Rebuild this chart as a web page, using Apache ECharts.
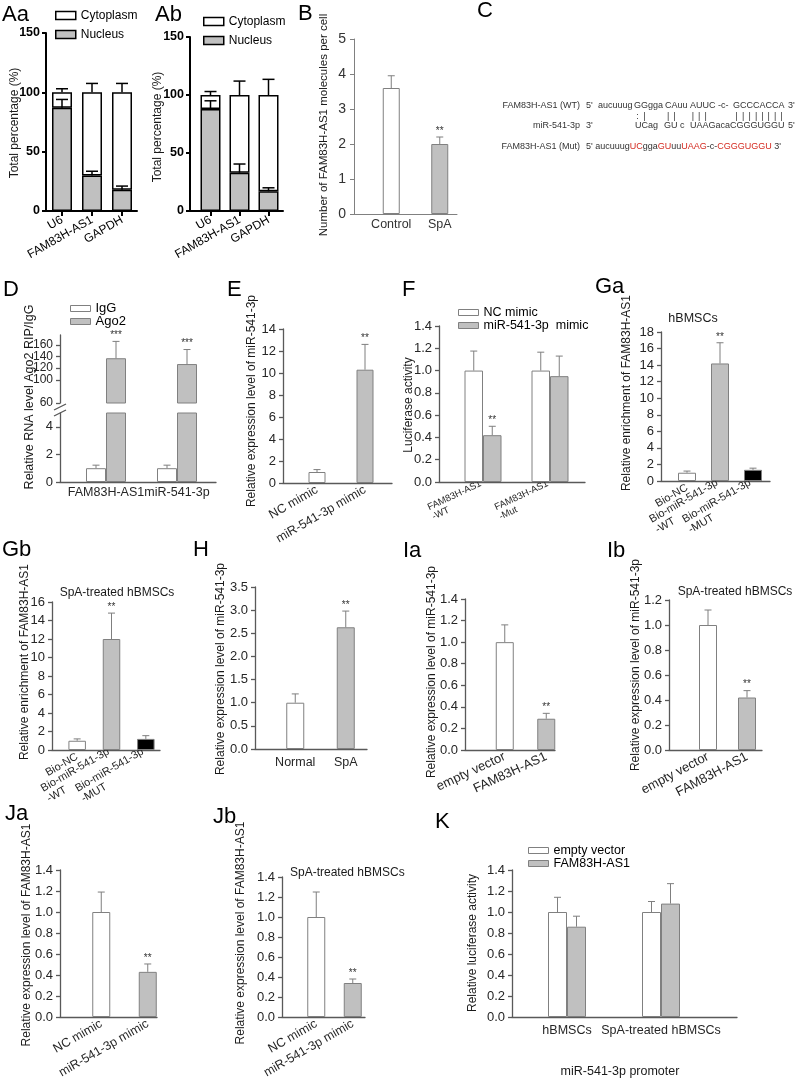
<!DOCTYPE html>
<html><head><meta charset="utf-8">
<script src="https://cdn.jsdelivr.net/npm/echarts@6/dist/echarts.min.js"></script>
<style>html,body{margin:0;padding:0;background:#fff}#c{width:800px;height:1081px}</style>
</head><body><div id="c"></div>
<script>
// ================= DATA =================
const aCategories = ['U6', 'FAM83H-AS1', 'GAPDH'];
const aTicks = [0, 50, 100, 150];
const aaNucleus = [87, 30, 18];
const aaNucleusSD = [7, 3.5, 3];
const aaCytoplasm = [13, 70, 82];
const aaTotalSD = [3, 7.5, 7.5];
const abNucleus = [88, 33, 17];
const abNucleusSD = [7, 7.5, 3];
const abCytoplasm = [12, 67, 83];
const abTotalSD = [3, 12, 13.5];

const bCategories = ['Control', 'SpA'];
const bTicks = [0, 1, 2, 3, 4, 5];
const bValues = [3.6, 2.0];
const bSD = [0.35, 0.2];
const bStars = ['', '**'];

const dCategories = ['FAM83H-AS1', 'miR-541-3p'];
const dLowTicks = [0, 2, 4];
const dLowMax = 5;
const dHighTicks = [60, 80, 100, 120, 140, 160];
const dHighMax = 177;
const dIgG = [1.0, 1.0];
const dIgGSD = [0.22, 0.22];
const dAgo2 = [137, 127];
const dAgo2SD = [29, 25];
const dStars = ['***', '***'];

const eCategories = ['NC mimic', 'miR-541-3p mimic'];
const eTicks = [0, 2, 4, 6, 8, 10, 12, 14];
const eValues = [1.0, 10.3];
const eSD = [0.22, 2.3];
const eStars = ['', '**'];

const fCategories = ['FAM83H-AS1\n-WT', 'FAM83H-AS1\n-Mut'];
const fTicks = [0, 0.2, 0.4, 0.6, 0.8, 1.0, 1.2, 1.4];
const fNC = [1.0, 1.0];
const fNCSD = [0.175, 0.165];
const fMimic = [0.42, 0.95];
const fMimicSD = [0.08, 0.18];
const fStars = ['**', ''];

const gCategories = ['Bio-NC', 'Bio-miR-541-3p\n-WT', 'Bio-miR-541-3p\n-MUT'];
const gaTicks = [0, 2, 4, 6, 8, 10, 12, 14, 16, 18];
const gaValues = [1.0, 14.2, 1.35];
const gaSD = [0.2, 2.5, 0.2];
const gbTicks = [0, 2, 4, 6, 8, 10, 12, 14, 16];
const gbValues = [1.0, 12.0, 1.2];
const gbSD = [0.2, 2.8, 0.35];
const gStars = ['', '**', ''];

const hCategories = ['Normal', 'SpA'];
const hTicks = [0, 0.5, 1.0, 1.5, 2.0, 2.5, 3.0, 3.5];
const hValues = [1.0, 2.63];
const hSD = [0.19, 0.35];

const iCategories = ['empty vector', 'FAM83H-AS1'];
const iaTicks = [0, 0.2, 0.4, 0.6, 0.8, 1.0, 1.2, 1.4];
const iaValues = [1.0, 0.29];
const iaSD = [0.16, 0.05];
const ibTicks = [0, 0.2, 0.4, 0.6, 0.8, 1.0, 1.2];
const ibValues = [1.0, 0.42];
const ibSD = [0.12, 0.055];

const jCategories = ['NC mimic', 'miR-541-3p mimic'];
const jaTicks = [0, 0.2, 0.4, 0.6, 0.8, 1.0, 1.2, 1.4];
const jaValues = [1.0, 0.43];
const jaSD = [0.19, 0.075];
const jbTicks = [0, 0.2, 0.4, 0.6, 0.8, 1.0, 1.2, 1.4];
const jbValues = [1.0, 0.34];
const jbSD = [0.25, 0.04];
const starsSecond = ['', '**'];

const kCategories = ['hBMSCs', 'SpA-treated hBMSCs'];
const kTicks = [0, 0.2, 0.4, 0.6, 0.8, 1.0, 1.2, 1.4];
const kEmpty = [1.0, 1.0];
const kEmptySD = [0.14, 0.1];
const kFAM = [0.86, 1.08];
const kFAMSD = [0.1, 0.19];

// ================= STYLE / BUILDERS =================
const FF = '"Liberation Sans", Arial, Helvetica, sans-serif';
const WHITE = '#ffffff', GRAY = '#c0c0c0', BLACK = '#000000', RED = '#d42a20';
const GP = {axis: '#000', axisW: 2, tick: 4, label: '#000', labelSize: 12.5, bold: 'bold', margin: 6};
const EX = {axis: '#595959', axisW: 1.3, tick: 4, label: '#262626', labelSize: 13, bold: 'normal', margin: 7};
const BX = {axis: '#808080', axisW: 1, tick: 4, label: '#333', labelSize: 14, bold: 'normal', margin: 8};
const GPERR = {color: '#000', lw: 1.5, cap: 12};
const EXERR = {color: '#7f7f7f', lw: 1, cap: 7};

const option = {
  animation: false, backgroundColor: '#ffffff', textStyle: {fontFamily: FF},
  grid: [], xAxis: [], yAxis: [], series: [], legend: [], graphic: {elements: []}
};
const G = option.graphic.elements;
let sid = 0;

function frame(p, st) {
  const t = p.ticks;
  const min = t[0], max = (p.max !== undefined) ? p.max : t[t.length - 1], interval = t[1] - t[0];
  const h = p.y0 - p.yTop;
  const gA = option.grid.length;
  option.grid.push({left: p.x, top: p.yTop, width: p.xEnd - p.x, height: h, containLabel: false, outerBoundsMode: 'none'});
  option.grid.push({left: p.bandL, top: p.yTop, width: p.bandW, height: h, containLabel: false, outerBoundsMode: 'none'});
  const xA = option.xAxis.length;
  option.xAxis.push({gridIndex: gA, type: 'category', data: [''],
    axisLine: {show: p.xLine !== false, onZero: false, lineStyle: {color: st.axis, width: st.axisW}},
    axisTick: {show: false}, axisLabel: {show: false}, splitLine: {show: false}});
  const lab = {show: !p.hideCats, color: st.label, fontFamily: FF, fontSize: p.catSize || 12.5,
    margin: (p.catMargin !== undefined) ? p.catMargin : 6, rotate: p.catRotate || 0, interval: 0};
  if (p.multi) {
    const sz = p.catSize || 12.5;
    lab.formatter = v => { const s = v.split('\n'); return s.length > 1 ? '{a|' + s[0] + '}\n{b|' + s[1] + '}' : '{a|' + s[0] + '}'; };
    lab.rich = {a: {fontSize: sz, fontFamily: FF, color: st.label, lineHeight: sz + 1},
                b: {fontSize: sz, fontFamily: FF, color: st.label, lineHeight: sz + 1, align: 'left'}};
  }
  option.xAxis.push({gridIndex: gA + 1, type: 'category', data: p.cats,
    axisLine: {show: false, onZero: false},
    axisTick: {show: !!p.xTick, alignWithLabel: true, length: 5, lineStyle: {color: st.axis, width: st.axisW}},
    axisLabel: lab, splitLine: {show: false}});
  const yA = option.yAxis.length;
  option.yAxis.push({gridIndex: gA, type: 'value', min: min, max: max, interval: interval,
    axisLine: {show: true, lineStyle: {color: st.axis, width: st.axisW}},
    axisTick: {show: true, length: st.tick, lineStyle: {color: st.axis, width: st.axisW}},
    axisLabel: {color: st.label, fontFamily: FF, fontSize: p.tickSize || st.labelSize, fontWeight: st.bold,
      margin: st.margin, formatter: v => v.toFixed(p.dec || 0), showMaxLabel: p.max === undefined, showMinLabel: true},
    splitLine: {show: false}});
  option.yAxis.push({gridIndex: gA + 1, type: 'value', min: min, max: max, show: false});
  return {xi: xA + 1, yi: yA + 1};
}

function addBars(ax, name, values, st) {
  option.series.push({type: 'bar', name: name, xAxisIndex: ax.xi, yAxisIndex: ax.yi, stack: st.stack,
    barWidth: st.w, barGap: '0%', clip: true, silent: true,
    data: values.map((v, i) => st.fills ? {value: v, itemStyle: {color: st.fills[i]}} : v),
    itemStyle: {color: st.fill || WHITE, borderColor: st.stroke, borderWidth: st.sw}});
}

function addErr(ax, tops, sds, st, stars, off) {
  option.series.push({type: 'custom', name: 'err' + (sid++), xAxisIndex: ax.xi, yAxisIndex: ax.yi, silent: true, z: 5,
    data: tops.map((t, i) => [i, t, t + sds[i]]),
    renderItem: (params, api) => {
      const i = api.value(0);
      const a = api.coord([i, api.value(1)]), b = api.coord([i, api.value(2)]);
      const x = a[0] + (off || 0);
      const ls = {stroke: st.color, lineWidth: st.lw};
      const ch = [
        {type: 'line', shape: {x1: x, y1: a[1], x2: x, y2: b[1]}, style: ls},
        {type: 'line', shape: {x1: x - st.cap / 2, y1: b[1], x2: x + st.cap / 2, y2: b[1]}, style: ls}];
      const s = stars && stars[params.dataIndex];
      if (s) ch.push({type: 'text', x: x, y: b[1] - 1,
        style: {text: s, fill: '#333', font: '10px ' + FF, textAlign: 'center', textVerticalAlign: 'bottom', align: 'center', verticalAlign: 'bottom'}});
      return {type: 'group', children: ch};
    }});
}

function addLegend(left, top, names, styles, o) {
  option.legend.push({left: left, top: top, orient: 'vertical', padding: 0, itemGap: o.gap, itemWidth: 20, itemHeight: o.h,
    icon: 'rect', selectedMode: false,
    data: names.map((n, i) => ({name: n, icon: 'rect', itemStyle: styles[i]})),
    textStyle: {fontFamily: FF, fontSize: o.size, color: o.color || '#000', lineHeight: o.lh}});
}

function txt(x, y, text, o) {
  o = o || {};
  const al = o.align || 'left', va = o.va || 'middle';
  G.push({type: 'text', x: x, y: y, rotation: o.rot || 0, silent: true,
    style: {text: text, fill: o.color || '#1a1a1a', font: (o.weight || 'normal') + ' ' + (o.size || 12) + 'px ' + FF,
      textAlign: al, textVerticalAlign: va, align: al, verticalAlign: va}});
}
const mctx = document.createElement('canvas').getContext('2d');
function tw(s, size) { mctx.font = size + 'px ' + FF; return mctx.measureText(s).width; }

// ================= PANELS =================
// Aa
const axAa = frame({x: 46, y0: 211, yTop: 33, xEnd: 137, bandL: 47, bandW: 90, ticks: aTicks,
  cats: aCategories, catRotate: 30, catSize: 12, catMargin: 8, xTick: true}, GP);
addBars(axAa, 'Nucleus', aaNucleus, {stack: 'aa', w: 20, fill: GRAY, stroke: '#000', sw: 1.5});
addBars(axAa, 'Cytoplasm', aaCytoplasm, {stack: 'aa', w: 20, fill: WHITE, stroke: '#000', sw: 1.5});
addErr(axAa, aaNucleus, aaNucleusSD, GPERR);
addErr(axAa, aaNucleus.map((n, i) => n + aaCytoplasm[i]), aaTotalSD, GPERR);
addLegend(55, 9.5, ['Cytoplasm', 'Nucleus'],
  [{color: WHITE, borderColor: '#000', borderWidth: 1.5}, {color: GRAY, borderColor: '#000', borderWidth: 1.5}],
  {gap: 7, h: 8, size: 12, lh: 12});
txt(15, 123, 'Total percentage (%)', {rot: Math.PI / 2, align: 'center', size: 12});

// Ab
const axAb = frame({x: 190, y0: 211, yTop: 37, xEnd: 283, bandL: 196, bandW: 87, ticks: aTicks,
  cats: aCategories, catRotate: 30, catSize: 12, catMargin: 8, xTick: true}, GP);
addBars(axAb, 'Nucleus', abNucleus, {stack: 'ab', w: 20, fill: GRAY, stroke: '#000', sw: 1.5});
addBars(axAb, 'Cytoplasm', abCytoplasm, {stack: 'ab', w: 20, fill: WHITE, stroke: '#000', sw: 1.5});
addErr(axAb, abNucleus, abNucleusSD, GPERR);
addErr(axAb, abNucleus.map((n, i) => n + abCytoplasm[i]), abTotalSD, GPERR);
addLegend(203, 15.5, ['Cytoplasm', 'Nucleus'],
  [{color: WHITE, borderColor: '#000', borderWidth: 1.5}, {color: GRAY, borderColor: '#000', borderWidth: 1.5}],
  {gap: 7, h: 8, size: 12, lh: 12});
txt(158, 127, 'Total percentage (%)', {rot: Math.PI / 2, align: 'center', size: 12});

// B
const axB = frame({x: 354, y0: 214, yTop: 39, xEnd: 457, bandL: 367, bandW: 97, ticks: bTicks,
  cats: bCategories, catSize: 12.5, catMargin: 4}, BX);
addBars(axB, 'B bars', bValues, {w: 17, fills: [WHITE, GRAY], stroke: '#808080', sw: 1});
addErr(axB, bValues, bSD, EXERR, bStars);
txt(324, 125, 'Number of FAM83H-AS1 molecules per cell', {rot: Math.PI / 2, align: 'center', size: 11.5});

// C (sequence alignment)
const cS = 9, cC = '#333';
function ct(x, y, s, al, col) { txt(x, y, s, {size: cS, color: col || cC, align: al || 'left'}); }
function seq(x, y, parts) { let cx = x; parts.forEach(p => { ct(cx, y, p[0], 'left', p[1]); cx += tw(p[0], cS); }); }
function pairs(x0, str, idxs, syms, y) {
  idxs.forEach((k, j) => { const cx = x0 + tw(str.slice(0, k), cS) + tw(str[k], cS) / 2; ct(cx, y, (syms && syms[j]) || '|', 'center'); });
}
ct(580, 106, 'FAM83H-AS1 (WT)', 'right');
ct(586, 106, "5'"); ct(598, 106, 'aucuuug'); ct(634, 106, 'GGgga'); ct(665, 106, 'CAuu'); ct(690, 106, 'AUUC');
ct(718, 106, '-c-'); ct(733, 106, 'GCCCACCA'); ct(788, 106, "3'");
pairs(634, 'GGgga', [0, 1], [':', '|'], 117);
pairs(665, 'CAuu', [0, 1], null, 117);
pairs(690, 'AUUC', [0, 1, 2], null, 117);
pairs(733, 'GCCCACCA', [0, 1, 2, 3, 4, 5, 6, 7], null, 117);
ct(580, 126, 'miR-541-3p', 'right'); ct(586, 126, "3'"); ct(635, 126, 'UCag'); ct(664, 126, 'GU'); ct(680, 126, 'c');
ct(690, 126, 'UAAGacaCGGGUGGU'); ct(788, 126, "5'");
ct(580, 147, 'FAM83H-AS1 (Mut)', 'right');
seq(586, 147, [["5' aucuuug", cC], ['UC', RED], ['gga', cC], ['GU', RED], ['uu', cC], ['UAAG', RED], ['-c-', cC], ['CGGGUGGU', RED], [" 3'", cC]]);

// D (broken axis)
const axDl = frame({x: 60, y0: 482, yTop: 413, xEnd: 216, bandL: 70.5, bandW: 142, ticks: dLowTicks, max: dLowMax,
  cats: dCategories, catSize: 12.5, catMargin: 4}, EX);
const axDh = frame({x: 60, y0: 403, yTop: 335, xEnd: 216, bandL: 70.5, bandW: 142, ticks: dHighTicks, max: dHighMax,
  cats: dCategories, hideCats: true, xLine: false}, Object.assign({}, EX, {labelSize: 12}));
addBars(axDl, 'IgG', dIgG, {w: 20, fill: WHITE, stroke: '#808080', sw: 1});
addBars(axDl, 'Ago2', dAgo2, {w: 20, fill: GRAY, stroke: '#808080', sw: 1});
addBars(axDh, 'IgG', dIgG, {w: 20, fill: WHITE, stroke: '#808080', sw: 1});
addBars(axDh, 'Ago2', dAgo2, {w: 20, fill: GRAY, stroke: '#808080', sw: 1});
addErr(axDl, dIgG, dIgGSD, EXERR, null, -10);
addErr(axDh, dAgo2, dAgo2SD, EXERR, dStars, 10);
addLegend(70, 302, ['IgG', 'Ago2'],
  [{color: WHITE, borderColor: '#808080', borderWidth: 1}, {color: GRAY, borderColor: '#808080', borderWidth: 1}],
  {gap: 0, h: 6, size: 13, lh: 12});
G.push({type: 'line', silent: true, shape: {x1: 54, y1: 410, x2: 66, y2: 404}, style: {stroke: '#595959', lineWidth: 1.3}});
G.push({type: 'line', silent: true, shape: {x1: 54, y1: 416, x2: 66, y2: 410}, style: {stroke: '#595959', lineWidth: 1.3}});
txt(30, 397, 'Relative RNA level Ago2 RIP/IgG', {rot: Math.PI / 2, align: 'center', size: 12.5});

// E
const axE = frame({x: 283, y0: 483, yTop: 329, xEnd: 392, bandL: 293, bandW: 96, ticks: eTicks,
  cats: eCategories, catRotate: 30, catSize: 12.5, catMargin: 6}, EX);
addBars(axE, 'E bars', eValues, {w: 17, fills: [WHITE, GRAY], stroke: '#808080', sw: 1});
addErr(axE, eValues, eSD, EXERR, eStars);
txt(252, 401, 'Relative expression level of miR-541-3p', {rot: Math.PI / 2, align: 'center', size: 12});

// F
const axF = frame({x: 439, y0: 482, yTop: 326, xEnd: 585, bandL: 449.5, bandW: 134, ticks: fTicks, dec: 1,
  cats: fCategories, catRotate: 25, catSize: 9.5, catMargin: 6, multi: true}, EX);
addBars(axF, 'NC mimic', fNC, {w: 18.5, fill: WHITE, stroke: '#808080', sw: 1});
addBars(axF, 'miR-541-3p  mimic', fMimic, {w: 18.5, fill: GRAY, stroke: '#808080', sw: 1});
addErr(axF, fNC, fNCSD, EXERR, null, -9.25);
addErr(axF, fMimic, fMimicSD, EXERR, fStars, 9.25);
addLegend(458, 306, ['NC mimic', 'miR-541-3p  mimic'],
  [{color: WHITE, borderColor: '#808080', borderWidth: 1}, {color: GRAY, borderColor: '#808080', borderWidth: 1}],
  {gap: 0, h: 6, size: 12.5, lh: 10});
txt(409, 405, 'Luciferase activity', {rot: Math.PI / 2, align: 'center', size: 12});

// Ga
const axGa = frame({x: 661, y0: 481, yTop: 332, xEnd: 770, bandL: 670.5, bandW: 99, ticks: gaTicks,
  cats: gCategories, catRotate: 30, catSize: 11, catMargin: 6, multi: true}, EX);
addBars(axGa, 'Ga bars', gaValues, {w: 18, fills: [WHITE, GRAY, BLACK], stroke: '#808080', sw: 1});
addErr(axGa, gaValues, gaSD, EXERR, gStars);
txt(693, 319, 'hBMSCs', {align: 'center', size: 12.5});
txt(627, 393, 'Relative enrichment of FAM83H-AS1', {rot: Math.PI / 2, align: 'center', size: 12});

// Gb
const axGb = frame({x: 52, y0: 750, yTop: 602, xEnd: 160, bandL: 60, bandW: 103, ticks: gbTicks,
  cats: gCategories, catRotate: 30, catSize: 11, catMargin: 6, multi: true}, EX);
addBars(axGb, 'Gb bars', gbValues, {w: 17.5, fills: [WHITE, GRAY, BLACK], stroke: '#808080', sw: 1});
addErr(axGb, gbValues, gbSD, EXERR, gStars);
txt(117, 593, 'SpA-treated hBMSCs', {align: 'center', size: 12});
txt(25, 662, 'Relative enrichment of FAM83H-AS1', {rot: Math.PI / 2, align: 'center', size: 12});

// H
const axH = frame({x: 255, y0: 749, yTop: 587, xEnd: 367, bandL: 270, bandW: 101, ticks: hTicks, dec: 1,
  cats: hCategories, catSize: 12.5, catMargin: 7}, EX);
addBars(axH, 'H bars', hValues, {w: 18, fills: [WHITE, GRAY], stroke: '#808080', sw: 1});
addErr(axH, hValues, hSD, EXERR, starsSecond);
txt(221, 669, 'Relative expression level of miR-541-3p', {rot: Math.PI / 2, align: 'center', size: 12});

// Ia
const axIa = frame({x: 465, y0: 750, yTop: 599, xEnd: 555, bandL: 484, bandW: 83, ticks: iaTicks, dec: 1,
  cats: iCategories, catRotate: 25, catSize: 13, catMargin: 6}, EX);
addBars(axIa, 'Ia bars', iaValues, {w: 18, fills: [WHITE, GRAY], stroke: '#808080', sw: 1});
addErr(axIa, iaValues, iaSD, EXERR, starsSecond);
txt(432, 672, 'Relative expression level of miR-541-3p', {rot: Math.PI / 2, align: 'center', size: 12});

// Ib
const axIb = frame({x: 669, y0: 750, yTop: 600, xEnd: 762, bandL: 688.5, bandW: 78, ticks: ibTicks, dec: 1,
  cats: iCategories, catRotate: 28, catSize: 13, catMargin: 6}, EX);
addBars(axIb, 'Ib bars', ibValues, {w: 18, fills: [WHITE, GRAY], stroke: '#808080', sw: 1});
addErr(axIb, ibValues, ibSD, EXERR, starsSecond);
txt(735, 592, 'SpA-treated hBMSCs', {align: 'center', size: 12});
txt(636, 665, 'Relative expression level of miR-541-3p', {rot: Math.PI / 2, align: 'center', size: 12});

// Ja
const axJa = frame({x: 60, y0: 1017, yTop: 870, xEnd: 157, bandL: 78, bandW: 93, ticks: jaTicks, dec: 1,
  cats: jCategories, catRotate: 30, catSize: 12.5, catMargin: 6}, EX);
addBars(axJa, 'Ja bars', jaValues, {w: 18, fills: [WHITE, GRAY], stroke: '#808080', sw: 1});
addErr(axJa, jaValues, jaSD, EXERR, starsSecond);
txt(27, 935, 'Relative expression level of FAM83H-AS1', {rot: Math.PI / 2, align: 'center', size: 12});

// Jb
const axJb = frame({x: 282, y0: 1017, yTop: 877, xEnd: 365, bandL: 298, bandW: 73, ticks: jbTicks, dec: 1,
  cats: jCategories, catRotate: 30, catSize: 12.5, catMargin: 6}, EX);
addBars(axJb, 'Jb bars', jbValues, {w: 18, fills: [WHITE, GRAY], stroke: '#808080', sw: 1});
addErr(axJb, jbValues, jbSD, EXERR, starsSecond);
txt(290, 873, 'SpA-treated hBMSCs', {align: 'left', size: 12});
txt(241, 933, 'Relative expression level of FAM83H-AS1', {rot: Math.PI / 2, align: 'center', size: 12});

// K
const axK = frame({x: 512, y0: 1017, yTop: 870, xEnd: 737, bandL: 520, bandW: 188, ticks: kTicks, dec: 1,
  cats: kCategories, catSize: 12.5, catMargin: 7}, EX);
addBars(axK, 'empty vector', kEmpty, {w: 19, fill: WHITE, stroke: '#808080', sw: 1});
addBars(axK, 'FAM83H-AS1', kFAM, {w: 19, fill: GRAY, stroke: '#808080', sw: 1});
addErr(axK, kEmpty, kEmptySD, EXERR, null, -9.5);
addErr(axK, kFAM, kFAMSD, EXERR, null, 9.5);
addLegend(528, 844, ['empty vector', 'FAM83H-AS1'],
  [{color: WHITE, borderColor: '#808080', borderWidth: 1}, {color: GRAY, borderColor: '#808080', borderWidth: 1}],
  {gap: 0, h: 6, size: 12.5, lh: 12});
txt(473, 943, 'Relative luciferase activity', {rot: Math.PI / 2, align: 'center', size: 12});
txt(620, 1072, 'miR-541-3p promoter', {align: 'center', size: 12.5});

// Panel letters
[['Aa', 2, 15], ['Ab', 155, 15], ['B', 298, 14], ['C', 477, 11], ['D', 3, 290], ['E', 227, 290], ['F', 402, 290],
 ['Ga', 595, 287], ['Gb', 2, 550], ['H', 193, 550], ['Ia', 403, 551], ['Ib', 607, 551], ['Ja', 5, 814],
 ['Jb', 213, 817], ['K', 435, 822]].forEach(l => txt(l[1], l[2], l[0], {size: 22, color: '#000'}));

const chart = echarts.init(document.getElementById('c'), null, {renderer: 'canvas'});
chart.setOption(option);
</script></body></html>
